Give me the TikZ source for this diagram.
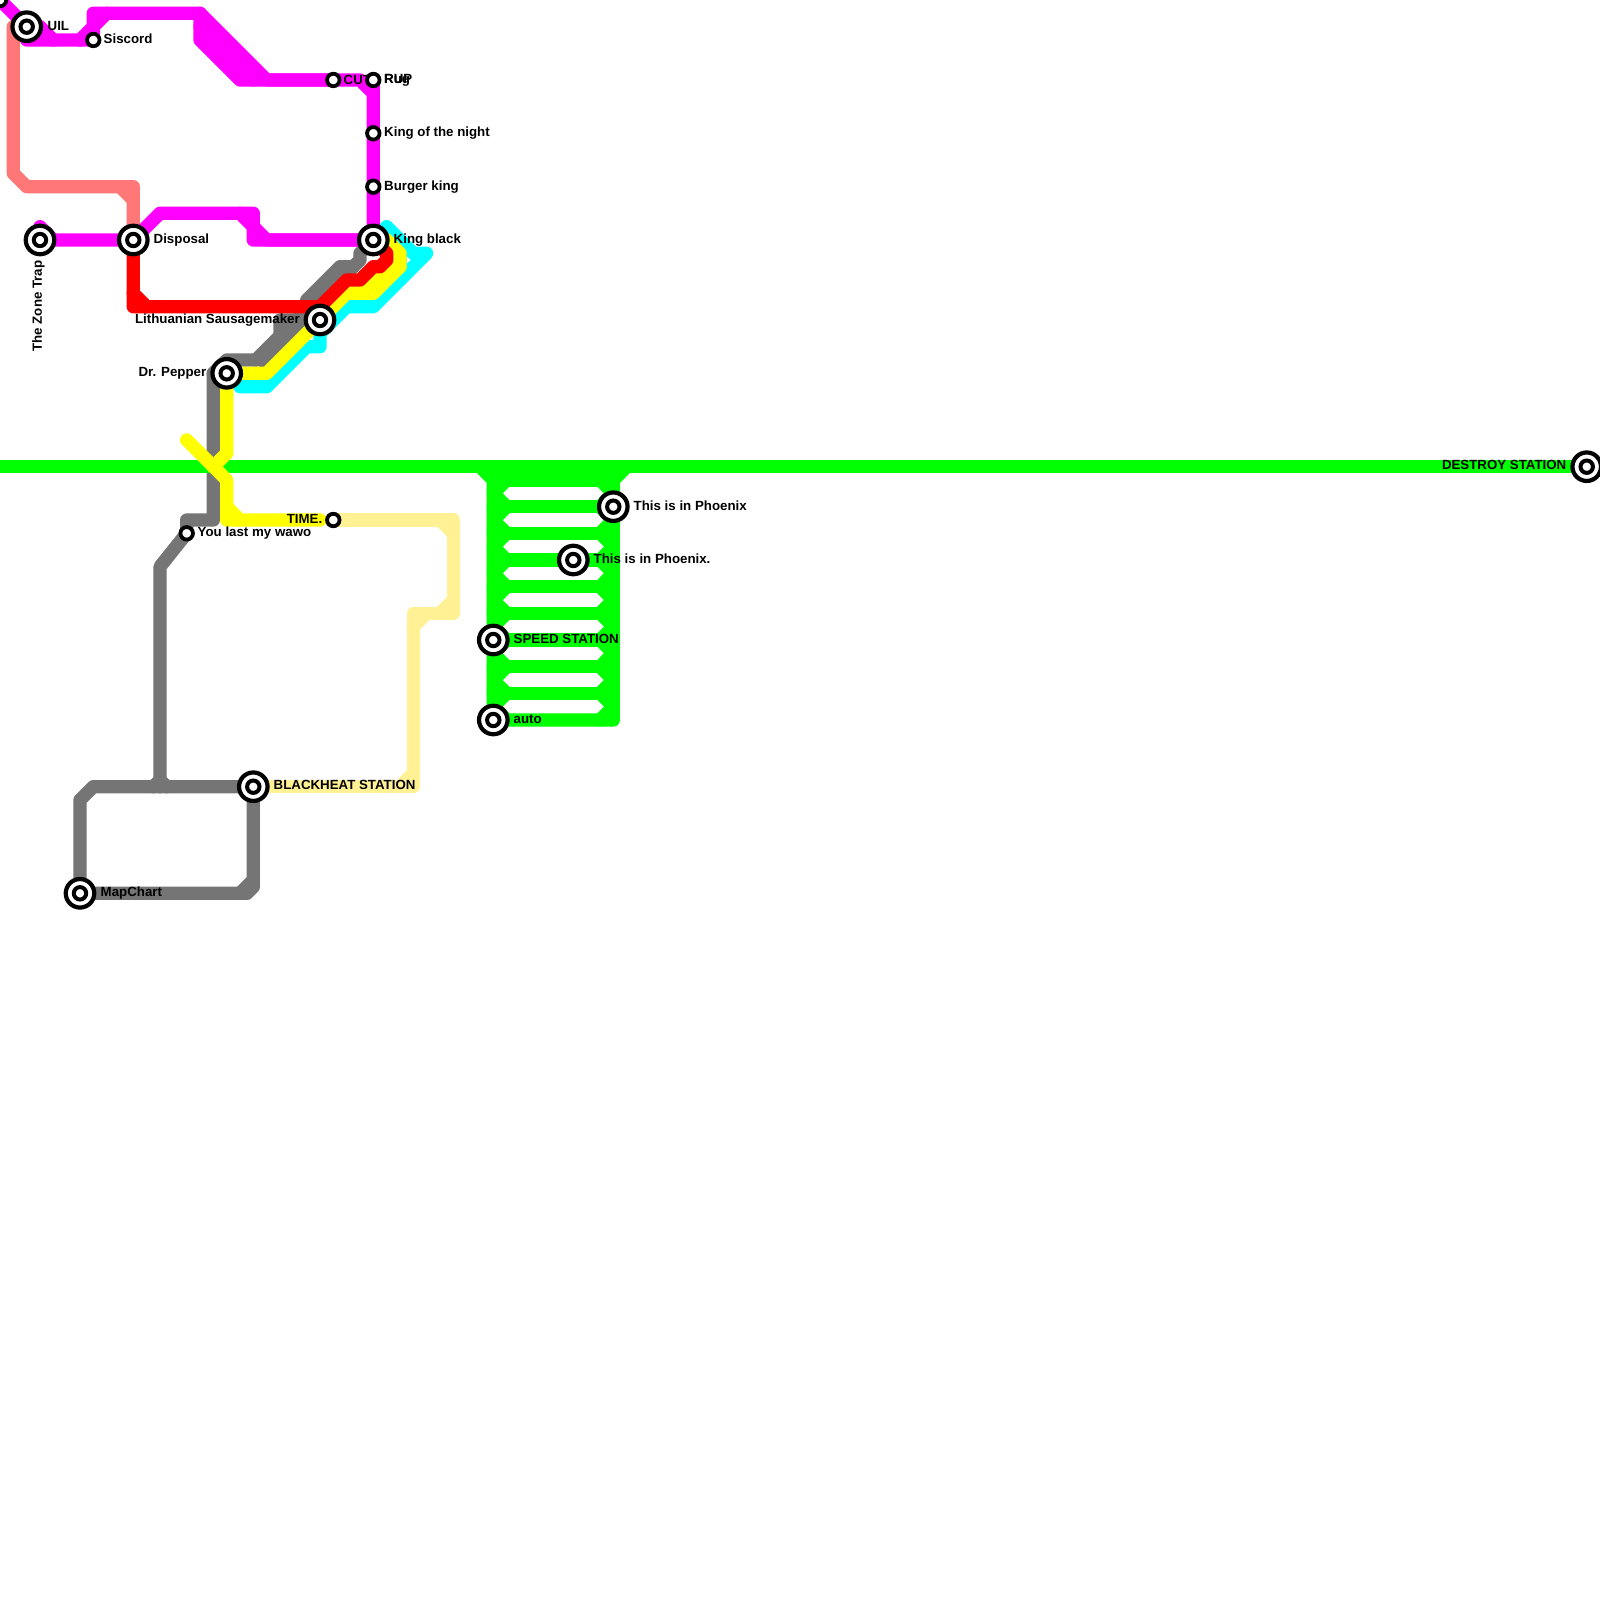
\documentclass[tikz,border=0pt]{standalone}
\usepackage{fontspec}
\setmainfont{Liberation Sans}
\usepackage{tikz}
\usetikzlibrary{calc}
\definecolor{metrosalmon}{HTML}{FF7777}
\definecolor{metrogrey}{HTML}{757575}
\definecolor{metrosand}{HTML}{FFF194}
\definecolor{metromagenta}{HTML}{FF00FF}
\definecolor{metrocyan}{HTML}{00FFFF}
\definecolor{metroyellow}{HTML}{FFFF00}
\definecolor{metrored}{HTML}{FF0000}
\definecolor{metrogreen}{HTML}{00FF00}
\tikzset{
  metro/.style={line width=0.1333cm, line cap=round, line join=round},
  hub/.style={circle, draw=black, fill=white, line width=0.042cm, inner sep=0pt, minimum size=0.285cm,
    path picture={\draw[black, line width=0.04cm] (path picture bounding box.center) circle (0.062cm);}},
  stop/.style={circle, draw=black, fill=white, line width=0.038cm, inner sep=0pt, minimum size=0.125cm},
  lbl/.style={font=\bfseries\fontsize{3.78pt}{4pt}\selectfont, inner sep=0pt, text=black}
}
\begin{document}
\begin{tikzpicture}[x=0.01cm,y=-0.01cm]
\useasboundingbox (0,0) rectangle (1600,1600);

\coordinate (uilc) at (26.7,26.7);
\coordinate (siscordc) at (93.3,40);
\coordinate (zonec) at (40,240);
\coordinate (disposalc) at (133.3,240);
\coordinate (blackc) at (373.3,240);
\coordinate (sausagec) at (320,320);
\coordinate (pepperc) at (226.7,373.3);
\coordinate (wawoc) at (186.7,533.3);
\coordinate (timec) at (333.3,520);
\coordinate (cutc) at (333.3,80);
\coordinate (rugc) at (373.3,80);
\coordinate (destroyc) at (1586.7,466.7);
\coordinate (phoenixc) at (613.3,506.7);
\coordinate (phoenixbc) at (573.3,560);
\coordinate (speedc) at (493.3,640);
\coordinate (autoc) at (493.3,720);
\coordinate (heatc) at (253.3,786.7);
\coordinate (chartc) at (80,893.3);

\draw[metro, metrosalmon] (13.3,26.7) -- (13.3,173.3) -- (26.7,186.7) -- (133.3,186.7) -- (disposalc);
\draw[metro, metrosalmon] (120,186.7) -- (133.3,200);

\draw[metro, metrosand] (timec) -- (453.3,520) -- (453.3,613.3) -- (413.3,613.3) -- (413.3,786.7) -- (heatc);
\draw[metro, metrosand] (440,520) -- (453.3,533.3);
\draw[metro, metrosand] (440,613.3) -- (453.3,600);
\draw[metro, metrosand] (413.3,626.7) -- (426.7,613.3);
\draw[metro, metrosand] (400,786.7) -- (413.3,773.3);

\draw[metro, metrogrey] (blackc) -- (360,253.3) -- (360,260) -- (353.3,266.7) -- (340,266.7) -- (306.7,300);
\draw[metro, metrogrey] (353.3,266.7) -- (320,300);
\draw[metro, metrogrey] (sausagec) -- (280,320) -- (280,336) -- (256,360) -- (226.7,360) -- (213.3,373.3) -- (213.3,520) -- (186.7,520) -- (wawoc) -- (160,566.7) -- (160,786.7);
\draw[metro, metrogrey] (256,360) -- (320,296);
\draw[metro, metrogrey] (264,362) -- (314,312);
\draw[metro, metrogrey] (pepperc) -- (213.3,373.3);
\draw[metro, metrogrey] (153.3,786.7) -- (160,780) -- (166.7,786.7);
\draw[metro, metrogrey] (heatc) -- (93.3,786.7) -- (80,800) -- (chartc) -- (247,893.3) -- (253.3,887) -- (heatc);
\draw[metro, metrogrey] (253.3,880) -- (240,893.3);

\draw[metro, metrocyan] (240,386.7) -- (266.7,386.7) -- (306.7,346.7) -- (320,346.7) -- (sausagec);
\draw[metro, metrocyan] (320,333.3) -- (346.7,306.7) -- (373.3,306.7) -- (426.7,253.3) -- (413.3,253.3) -- (386.7,226.7) -- (blackc);
\draw[metro, metrocyan] (400,253.3) -- (400,280);

\draw[metro, metrogreen, line cap=butt] (0,466.7) -- (destroyc);
\draw[metro, metrogreen] (480,466.7) -- (493.3,480) -- (autoc) -- (613.3,720) -- (613.3,480) -- (626.7,466.7);
\foreach \rowy in {480,506.7,533.3,560,586.7,613.3,640,666.7,693.3} {
  \draw[metro, metrogreen] (493.3,\rowy) -- (613.3,\rowy);
  \draw[metro, metrogreen] (506.7,\rowy) -- (493.3,\rowy+13.3) -- (506.7,\rowy+26.7);
  \draw[metro, metrogreen] (600,\rowy) -- (613.3,\rowy+13.3) -- (600,\rowy+26.7);
}

\draw[metro, metroyellow] (blackc) -- (386.7,240) -- (400,253.3) -- (400,266.7) -- (373.3,293.3) -- (346.7,293.3) -- (266.7,373.3) -- (pepperc) -- (226.7,453.3) -- (213.3,466.7);
\draw[metro, metroyellow] (346.7,293.3) -- (360,293.3) -- (386.7,266.7) -- (400,266.7);
\draw[metro, metroyellow] (186.7,440) -- (226.7,480) -- (226.7,520) -- (320,520);
\draw[metro, metroyellow] (226.7,506.7) -- (240,520);

\draw[metro, metrored] (disposalc) -- (133.3,306.7) -- (320,306.7) -- (346.7,280) -- (360,280) -- (373.3,266.7) -- (380,266.7) -- (386.7,260) -- (386.7,253.3) -- (blackc);
\draw[metro, metrored] (133.3,293.3) -- (146.7,306.7);

\draw[metro, metromagenta] (0,0) -- (uilc) -- (26.7,40) -- (siscordc);
\draw[metro, metromagenta] (uilc) -- (40,26.7) -- (53.3,40);
\draw[metro, metromagenta] (80,40) -- (93.3,26.7) -- (93.3,13.3) -- (200,13.3) -- (266.7,80) -- (cutc);
\draw[metro, metromagenta] (siscordc) -- (93.3,26.7) -- (106.7,13.3);
\draw[metro, metromagenta] (200,13.3) -- (200,40) -- (240,80) -- (cutc) -- (360,80) -- (373.3,93.3) -- (blackc);
\draw[metro, metromagenta] (200,26.7) -- (253.3,80);
\draw[metro, metromagenta] (rugc) -- (373.3,93.3);
\draw[metro, metromagenta] (40,226.7) -- (53.3,240);
\draw[metro, metromagenta] (zonec) -- (disposalc) -- (160,213.3) -- (253.3,213.3) -- (253.3,226.7) -- (266.7,240) -- (blackc);
\draw[metro, metromagenta] (240,213.3) -- (253.3,226.7) -- (253.3,240) -- (blackc);

\node[stop] (corner) at (0,0) {};
\node[hub] (uil) at (uilc) {};
\node[stop] (siscord) at (siscordc) {};
\node[hub] (zone) at (zonec) {};
\node[hub] (disposal) at (disposalc) {};
\node[hub] (kingblack) at (blackc) {};
\node[hub] (sausage) at (sausagec) {};
\node[hub] (pepper) at (pepperc) {};
\node[stop] (wawo) at (wawoc) {};
\node[stop] (time) at (timec) {};
\node[stop] (cut) at (cutc) {};
\node[stop] (rug) at (rugc) {};
\node[stop] (kingnight) at (373.3,133.3) {};
\node[stop] (burger) at (373.3,186.7) {};
\node[hub] (destroy) at (destroyc) {};
\node[hub] (phoenix) at (phoenixc) {};
\node[hub] (phoenixb) at (phoenixbc) {};
\node[hub] (speed) at (speedc) {};
\node[hub] (auto) at (autoc) {};
\node[hub] (heat) at (heatc) {};
\node[hub] (chart) at (chartc) {};

\node[lbl, anchor=west] at (47,26) {UIL};
\node[lbl, anchor=west] at (103,39) {Siscord};
\node[lbl, anchor=east, rotate=90] at (38.5,260) {The Zone Trap};
\node[lbl, anchor=west] at (153,240.5) {Disposal};
\node[lbl, anchor=west] at (393,240.5) {King black};
\node[lbl, anchor=east] at (300.5,320) {Lithuanian Sausagemaker};
\node[lbl, anchor=east] at (207,373) {Dr. Pepper};
\node[lbl, anchor=west] at (197,533) {You last my wawo};
\node[lbl, anchor=east] at (323,519) {TIME.};
\node[lbl, anchor=west] at (343,79.5) {CUT};
\node[lbl, anchor=west] at (383.5,79) {RUP};
\node[lbl, anchor=west] at (383.5,80) {Rug};
\node[lbl, anchor=west] at (383.5,133) {King of the night};
\node[lbl, anchor=west] at (383.5,187.5) {Burger king};
\node[lbl, anchor=east] at (1567,465) {DESTROY STATION};
\node[lbl, anchor=west] at (633,505.5) {This is in Phoenix};
\node[lbl, anchor=west] at (593,558.5) {This is in Phoenix.};
\node[lbl, anchor=west] at (513,638.5) {SPEED STATION};
\node[lbl, anchor=west] at (513,719) {auto};
\node[lbl, anchor=west] at (273,785) {BLACKHEAT STATION};
\node[lbl, anchor=west] at (100,893) {MapChart};
\end{tikzpicture}
\end{document}
